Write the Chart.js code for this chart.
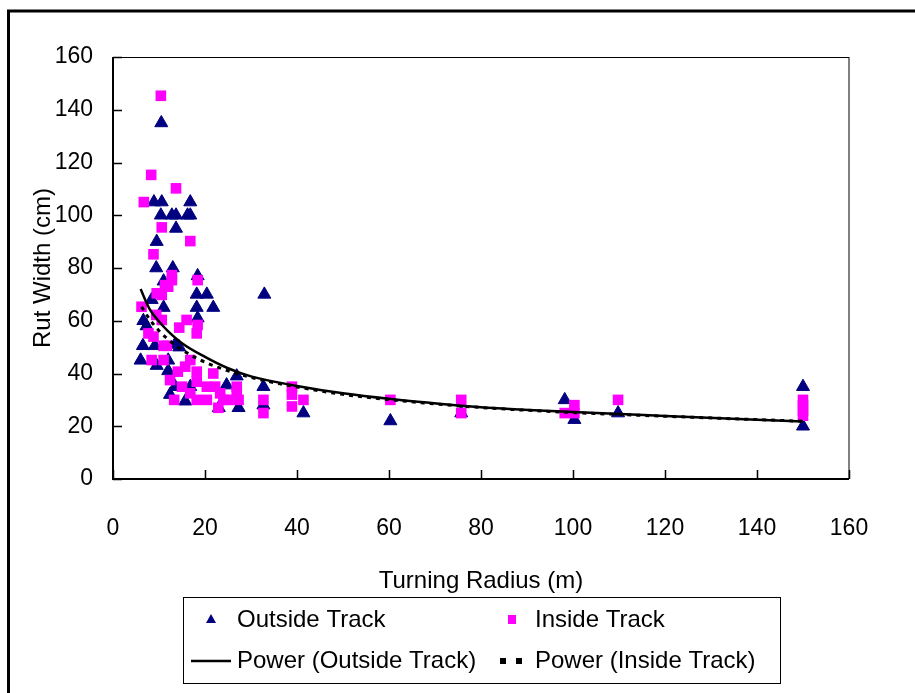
<!DOCTYPE html>
<html>
<head>
<meta charset="utf-8">
<script src="https://cdn.jsdelivr.net/npm/chart.js@4/dist/chart.umd.min.js"></script>
<style>
    html, body { margin: 0; padding: 0; background: #ffffff; }
    #wrap { width: 915px; height: 693px; position: relative; }
</style>
</head>
<body>
<div id="wrap"><canvas id="rutChart" width="915" height="693"></canvas></div>
<script>
// turning radius (m) / rut width (cm)
var outsideX = [10.5, 8.9, 10.6, 16.8, 10.4, 12.8, 13.7, 16.2, 16.8, 13.7, 9.5, 9.4, 13, 18.4, 11,
    18.2, 20.4, 8.4, 11, 18.2, 21.8, 6.6, 18.4, 7.3, 6.5, 9.1, 13.5, 14.4, 6, 9.5, 12, 12, 26.9,
    13.5, 16.8, 24.7, 12.4, 15.7, 27.3, 23, 32.9, 32.7, 32.7, 41.4, 60.3, 75.7, 98.2, 100.3, 109.8,
    150, 150];
var outsideY = [135, 105, 105, 105, 100, 100, 100, 100, 100, 95, 90, 80, 80, 77, 75,
    70, 70, 68, 65, 65, 65, 60, 61, 58, 50.5, 50.5, 51, 50, 45, 43, 45, 41, 39,
    35, 35, 35.6, 32, 29.5, 27, 27, 70, 35, 28, 25, 22, 25, 30, 22.5, 25,
    35, 20];

var insideX = [10.4, 8.3, 13.7, 6.7, 10.6, 16.8, 8.8, 12.8, 12.8, 18.4, 11.3, 12, 9.5, 10.6, 6.2,
    9.4, 10.6, 16, 14.4, 18.4, 18.2, 7.7, 8.8, 11, 11.7, 8.4, 11, 16.8, 15.7, 14.1, 12.4, 18.2,
    18.2, 21.8, 15, 16.8, 20.4, 22.2, 26.9, 23.3, 24, 25.1, 26.9, 27.3, 13.3, 18.2, 20.4, 22.9,
    32.7, 32.7, 38.9, 38.9, 38.9, 41.4, 60.3, 75.7, 75.7, 98.2, 100.3, 100.3, 109.8,
    150, 150, 150, 150];
var insideY = [145.3, 115.3, 110.2, 105, 95.4, 90.2, 85.2, 77.3, 75.4, 75.4, 73.5, 72.9, 70.4, 69.8, 65.3,
    62.2, 60.3, 60.3, 57.4, 58.4, 55.2, 55.2, 54, 50.5, 50.5, 45.1, 45.1, 45.1, 42.6, 40.7, 37.5, 40.7,
    36.9, 40, 35, 32.5, 35, 35, 35, 32.5, 30, 30, 32.5, 30, 30, 30, 30, 27,
    30, 25, 35, 32, 27.5, 30, 30, 30, 25, 25, 28, 25, 30,
    30, 28, 26, 24];

// power trendlines as drawn in the picture
var outsideTrendX = [6, 8, 10, 12, 15, 20, 25, 30, 40, 50, 60, 80, 100, 120, 150];
var outsideTrendY = [72, 64.3, 59.7, 56, 51.5, 46.3, 42, 38.9, 35.3, 32.5, 30.4, 27.2, 25.4, 23.9, 21.8];
var insideTrendX = [6.2, 8, 10, 13.5, 19, 24, 30, 40, 50, 60, 80, 100, 120, 150];
var insideTrendY = [65.3, 60.5, 56.2, 50.8, 45.1, 41.6, 38.5, 34.9, 32.1, 30.1, 27.1, 25.2, 23.8, 21.9];

var xTicks = [0, 20, 40, 60, 80, 100, 120, 140, 160];
var yTicks = [0, 20, 40, 60, 80, 100, 120, 140, 160];

var seriesNames = ['Outside Track', 'Inside Track', 'Power (Outside Track)', 'Power (Inside Track)'];

var fontFamily = '"Liberation Sans", Arial, sans-serif';

var toPoints = function(xs, ys) {
    return xs.map(function(x, i) {
        return { x: x, y: ys[i] };
    });
};

// outer frame, plot border, inward tick marks
var framePlugin = {
    id: 'frame',
    beforeDraw: function(chart) {
        var ctx = chart.ctx;
        ctx.save();
        ctx.fillStyle = '#ffffff';
        ctx.fillRect(0, 0, chart.width, chart.height);
        ctx.strokeStyle = '#000000';
        ctx.lineWidth = 3;
        ctx.strokeRect(8.5, 11, 920, 700);
        ctx.restore();
    },
    afterDatasetsDraw: function(chart) {
        var ctx = chart.ctx;
        var a = chart.chartArea;
        var xs = chart.scales.x;
        var ys = chart.scales.y;
        ctx.save();
        // right side grey
        ctx.strokeStyle = '#808080';
        ctx.lineWidth = 2;
        ctx.beginPath();
        ctx.moveTo(a.right, a.top);
        ctx.lineTo(a.right, a.bottom);
        ctx.stroke();
        // top thin black
        ctx.strokeStyle = '#000000';
        ctx.lineWidth = 1;
        ctx.beginPath();
        ctx.moveTo(a.left, a.top + 0.5);
        ctx.lineTo(a.right, a.top + 0.5);
        ctx.stroke();
        // axes
        ctx.lineWidth = 2;
        ctx.beginPath();
        ctx.moveTo(a.left, a.top);
        ctx.lineTo(a.left, a.bottom);
        ctx.lineTo(a.right, a.bottom);
        ctx.stroke();
        ctx.lineWidth = 1.5;
        ctx.beginPath();
        yTicks.forEach(function(v) {
            var py = Math.round(ys.getPixelForValue(v)) + 0.5;
            ctx.moveTo(a.left, py);
            ctx.lineTo(a.left + 9, py);
        });
        xTicks.forEach(function(v) {
            var px = Math.round(xs.getPixelForValue(v)) + 0.5;
            ctx.moveTo(px, a.bottom);
            ctx.lineTo(px, a.bottom - 9);
        });
        ctx.stroke();
        ctx.restore();
    }
};

// boxed two-column legend under the x title
var legendPlugin = {
    id: 'boxLegend',
    afterDraw: function(chart) {
        var ctx = chart.ctx;
        var ds = chart.data.datasets;
        ctx.save();
        ctx.strokeStyle = '#000000';
        ctx.lineWidth = 1;
        ctx.strokeRect(183.5, 597.5, 597, 86);
        ctx.fillStyle = '#000000';
        ctx.font = '24px ' + fontFamily;
        ctx.textBaseline = 'middle';
        ctx.textAlign = 'left';
        ctx.fillText(ds[0].label, 237, 620);
        ctx.fillText(ds[1].label, 535, 620);
        ctx.fillText(ds[2].label, 237, 661);
        ctx.fillText(ds[3].label, 535, 661);

        // triangle marker
        ctx.fillStyle = ds[0].backgroundColor;
        ctx.beginPath();
        ctx.moveTo(211, 614);
        ctx.lineTo(216, 623);
        ctx.lineTo(206, 623);
        ctx.closePath();
        ctx.fill();
        // square marker
        ctx.fillStyle = ds[1].backgroundColor;
        ctx.fillRect(508, 615, 8, 9);
        // solid line
        ctx.strokeStyle = ds[2].borderColor;
        ctx.lineWidth = 2.5;
        ctx.beginPath();
        ctx.moveTo(191, 661);
        ctx.lineTo(231, 661);
        ctx.stroke();
        // dashes
        ctx.fillStyle = ds[3].borderColor;
        ctx.fillRect(500, 658, 6, 6);
        ctx.fillRect(516, 658, 6, 6);
        ctx.restore();
    }
};

var config = {
    type: 'scatter',
    data: {
        datasets: [{
            label: seriesNames[0],
            data: toPoints(outsideX, outsideY),
            pointStyle: 'triangle',
            pointRadius: 7.5,
            pointBorderWidth: 1,
            backgroundColor: '#000080',
            borderColor: '#000080',
            order: 4
        }, {
            label: seriesNames[1],
            data: toPoints(insideX, insideY),
            pointStyle: 'rect',
            pointRadius: 7.5,
            pointBorderWidth: 0,
            backgroundColor: '#ff00ff',
            borderColor: '#ff00ff',
            order: 3
        }, {
            label: seriesNames[2],
            data: toPoints(outsideTrendX, outsideTrendY),
            showLine: true,
            pointRadius: 0,
            borderColor: '#000000',
            borderWidth: 2.5,
            cubicInterpolationMode: 'monotone',
            order: 2
        }, {
            label: seriesNames[3],
            data: toPoints(insideTrendX, insideTrendY),
            showLine: true,
            pointRadius: 0,
            borderColor: '#000000',
            borderWidth: 3,
            borderDash: [4, 5],
            borderCapStyle: 'butt',
            cubicInterpolationMode: 'monotone',
            order: 1
        }]
    },
    options: {
        responsive: false,
        animation: false,
        layout: {
            padding: { left: 0, top: 57, right: 66, bottom: 93 }
        },
        plugins: {
            legend: { display: false },
            tooltip: { enabled: false }
        },
        scales: {
            x: {
                type: 'linear',
                min: 0,
                max: 160,
                afterBuildTicks: function(scale) {
                    scale.ticks = xTicks.map(function(v) { return { value: v }; });
                },
                afterFit: function(scale) { scale.height = 121; },
                grid: { display: false, drawTicks: false },
                border: { display: false },
                ticks: {
                    padding: 36,
                    color: '#000000',
                    maxRotation: 0,
                    font: { family: fontFamily, size: 23 }
                },
                title: {
                    display: true,
                    text: 'Turning Radius (m)',
                    color: '#000000',
                    font: { family: fontFamily, size: 24 },
                    padding: { top: 0, bottom: 4 }
                }
            },
            y: {
                type: 'linear',
                min: 0,
                max: 160,
                afterBuildTicks: function(scale) {
                    scale.ticks = yTicks.map(function(v) { return { value: v }; });
                },
                afterFit: function(scale) { scale.width = 113; },
                grid: { display: false, drawTicks: false },
                border: { display: false },
                ticks: {
                    padding: 20,
                    color: '#000000',
                    font: { family: fontFamily, size: 23 }
                },
                title: {
                    display: true,
                    text: 'Rut Width (cm)',
                    color: '#000000',
                    font: { family: fontFamily, size: 24 },
                    padding: { top: 29, bottom: 0 }
                }
            }
        }
    },
    plugins: [framePlugin, legendPlugin]
};

new Chart(document.getElementById('rutChart').getContext('2d'), config);
</script>
</body>
</html>
